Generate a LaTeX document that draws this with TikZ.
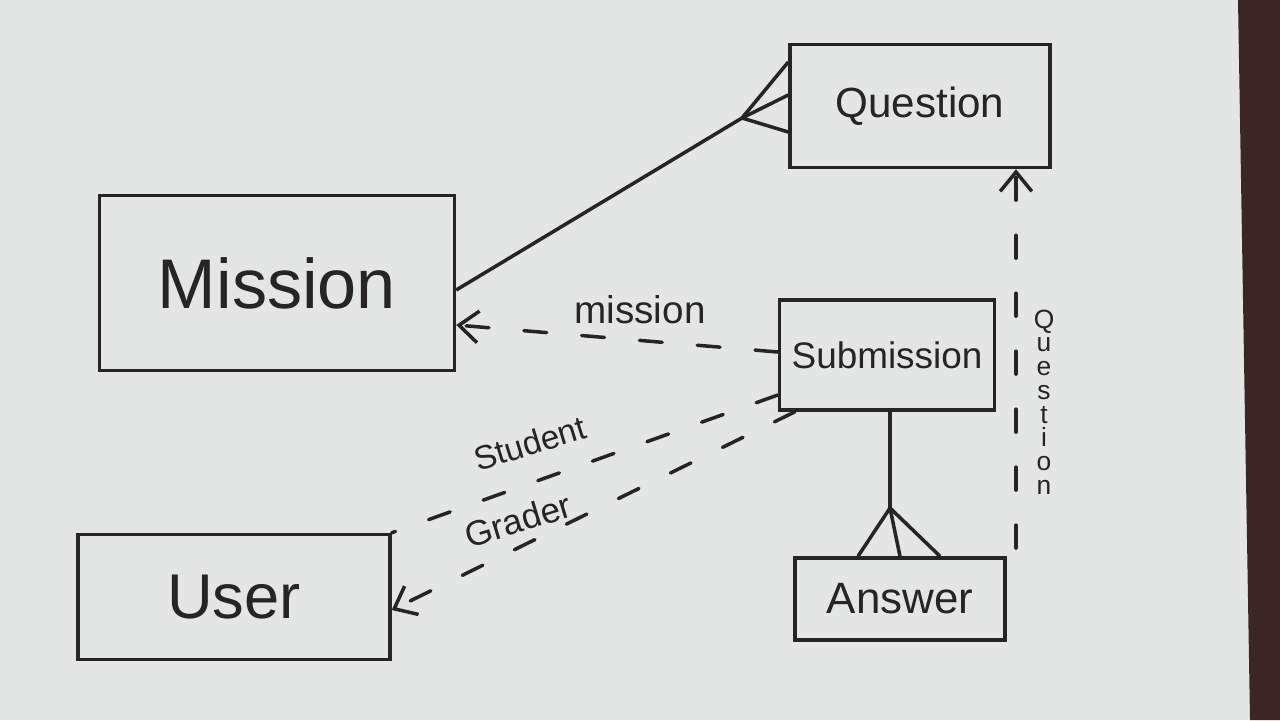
\documentclass[tikz,border=0pt]{standalone}
\usepackage{fontspec}
\setmainfont{Liberation Sans}
\usetikzlibrary{arrows.meta,calc}
\definecolor{board}{RGB}{228,229,229}
\definecolor{frame}{RGB}{58,38,34}
\definecolor{ink}{RGB}{38,36,36}
\tikzset{
  entity/.style={draw=ink, line width=2pt, rectangle, inner sep=0pt, text=ink},
  rel/.style={draw=ink, line width=2pt},
  dashrel/.style={draw=ink, line width=2pt, dash pattern=on 13pt off 20pt, line cap=round},
  tipA/.style={-{Straight Barb[length=11pt,width=18pt,line width=2pt]}},
  lbl/.style={text=ink, inner sep=1pt}
}
\begin{document}
\begin{tikzpicture}[x=0.02cm,y=-0.02cm]
% background (whiteboard and frame)
\fill[board] (0,0) rectangle (1280,720);
\fill[frame] (1238,0) -- (1280,0) -- (1280,720) -- (1250,720) -- cycle;
\useasboundingbox (0,0) rectangle (1280,720);

% entities
\node[entity, minimum width=7.1cm, minimum height=3.5cm, font=\fontsize{40}{44}\selectfont] (mission) at (277,283) {Mission};
\node[entity, minimum width=5.2cm, minimum height=2.46cm, font=\fontsize{24}{28}\selectfont] (question) at (920,106) {Question};
\node[entity, minimum width=4.3cm, minimum height=2.2cm, font=\fontsize{21}{25}\selectfont] (submission) at (887,355) {Submission};
\node[entity, minimum width=4.2cm, minimum height=1.64cm, font=\fontsize{25}{29}\selectfont] (answer) at (900,599) {Answer};
\node[entity, minimum width=6.24cm, minimum height=2.5cm, font=\fontsize{36}{40}\selectfont] (user) at (234,597) {User};

% Mission -- Question (crow's foot at Question)
\coordinate (qv) at (742,118);
\draw[rel] (mission.east |- 0,290) -- (qv);
\draw[rel] (qv) -- (question.west |- 0,62);
\draw[rel] (qv) -- (question.west |- 0,95);
\draw[rel] (qv) -- (question.west |- 0,132);

% Submission -- Answer (crow's foot at Answer)
\coordinate (av) at (890,508);
\draw[rel] (submission.south -| av) -- (av);
\draw[rel] (av) -- (answer.north -| 858,0);
\draw[rel] (av) -- (answer.north -| 900,0);
\draw[rel] (av) -- (answer.north -| 940,0);

% Submission --> Mission (mission)
\draw[dashrel, tipA] (submission.west |- 0,352) -- (mission.east |- 0,325);
\node[lbl, font=\fontsize{22}{26}\selectfont] (lmission) at (640,310) {mission};

% Submission --> User (Student)
\draw[dashrel] (submission.south west |- 0,395) -- (user.north east);
\node[lbl, font=\fontsize{19}{23}\selectfont, rotate=17] (lstudent) at (530,443) {Student};

% Submission --> User (Grader)
\draw[dashrel, tipA] (submission.south -| 795,0) -- (user.east |- 0,610);
\node[lbl, font=\fontsize{20}{24}\selectfont, rotate=17] (lgrader) at (518,520) {Grader};

% Answer --> Question (Question)
\coordinate (aq) at (1016,548);
\draw[dashrel, tipA] (aq) -- (aq |- question.south);
\node[lbl, font=\fontsize{15}{13.5}\selectfont, align=center] (lquestion) at (1044,402) {Q\\u\\e\\s\\t\\i\\o\\n};
\end{tikzpicture}
\end{document}
